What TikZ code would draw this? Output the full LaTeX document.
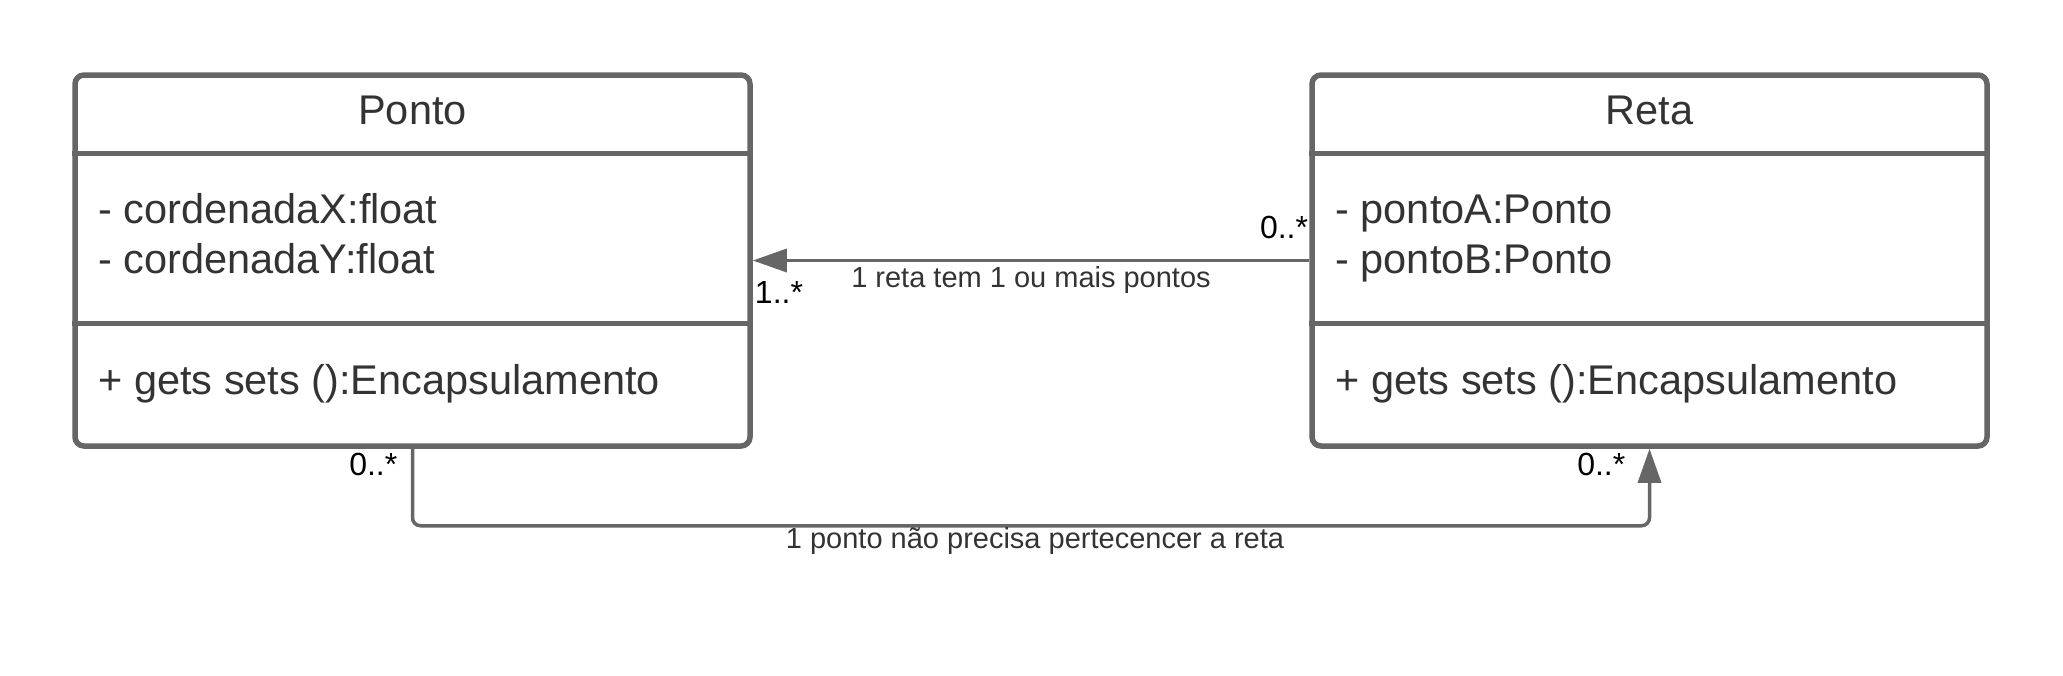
\documentclass[tikz,border=0pt]{standalone}
\usepackage{fontspec}
\setmainfont{Liberation Sans}
\usetikzlibrary{calc,arrows.meta}
\definecolor{umlLine}{HTML}{666666}
\definecolor{umlInk}{HTML}{333333}

\begin{document}
\begin{tikzpicture}[
    x=1pt, y=-1pt,
    uml class/.style={draw=umlLine, line width=5.5pt, rounded corners=9pt, minimum width=675pt, minimum height=371pt, inner sep=0pt},
    uml rule/.style={draw=umlLine, line width=5.5pt},
    uml assoc/.style={draw=umlLine, line width=3.5pt, -{Triangle[length=34pt, width=23pt]}},
    uml title/.style={text=umlInk, font=\fontsize{41.5}{49}\selectfont, inner sep=0pt, anchor=base},
    uml member/.style={text=umlInk, font=\fontsize{41.5}{49}\selectfont, inner sep=0pt, anchor=base west},
    uml note/.style={text=umlInk, font=\fontsize{29}{35}\selectfont, inner sep=0pt, anchor=base},
    uml mult/.style={text=black, font=\fontsize{32}{38}\selectfont, inner sep=0pt},
]
  \useasboundingbox (0,0) rectangle (2063,675);

  % Classes.
  \node[uml class] (ponto) at (412.5,260.5) {};
  \node[uml class] (reta) at (1649.5,260.5) {};

  % Divisórias.
  \draw[uml rule] ($(ponto.north west)+(0,81)$) -- ($(ponto.north east)+(0,81)$);
  \draw[uml rule] ($(ponto.north west)+(0,251)$) -- ($(ponto.north east)+(0,251)$);
  \draw[uml rule] ($(reta.north west)+(0,81)$) -- ($(reta.north east)+(0,81)$);
  \draw[uml rule] ($(reta.north west)+(0,251)$) -- ($(reta.north east)+(0,251)$);

  % Textos das classes.
  \node[uml title] (ponto-name) at ($(ponto.north)+(0,52)$) {Ponto};
  \node[uml member] (ponto-x) at ($(ponto.north west)+(26,151)$) {- cordenadaX:float};
  \node[uml member] (ponto-y) at ($(ponto.north west)+(26,201)$) {- cordenadaY:float};
  \node[uml member] (ponto-op) at ($(ponto.north west)+(26,322)$) {+ gets sets ():Encapsulamento};
  \node[uml title] (reta-name) at ($(reta.north)+(0,52)$) {Reta};
  \node[uml member] (reta-a) at ($(reta.north west)+(26,151)$) {- pontoA:Ponto};
  \node[uml member] (reta-b) at ($(reta.north west)+(26,201)$) {- pontoB:Ponto};
  \node[uml member] (reta-op) at ($(reta.north west)+(26,322)$) {+ gets sets ():Encapsulamento};

  % Associações.
  \draw[uml assoc] (reta.west) -- (ponto.east);
  \draw[uml assoc, rounded corners=8pt] (ponto.south) -- ++(0,77) -| (reta.south);

  % Rótulos das associações.
  \node[uml note] (note-top) at (1031,287) {1 reta tem 1 ou mais pontos};
  \node[uml note] (note-bottom) at (1035,548) {1 ponto não precisa pertecencer a reta};
  \node[uml mult, anchor=base east] (mult-reta) at ($(reta.west)+(-1,-22)$) {0..*};
  \node[uml mult, anchor=base west] (mult-ponto) at ($(ponto.east)+(2,43)$) {1..*};
  \node[uml mult, anchor=base east] (mult-ponto-b) at ($(ponto.south)+(-15,27)$) {0..*};
  \node[uml mult, anchor=base east] (mult-reta-b) at ($(reta.south)+(-24,27)$) {0..*};
\end{tikzpicture}
\end{document}
